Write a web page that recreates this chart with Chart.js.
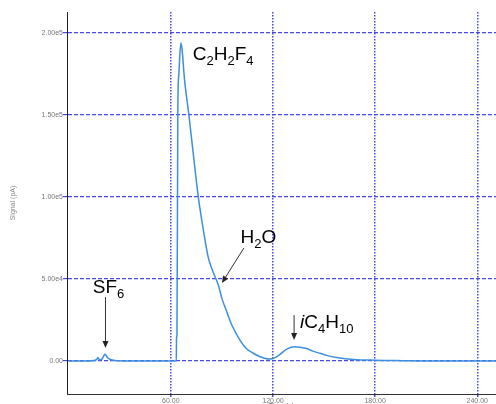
<!DOCTYPE html>
<html>
<head>
<meta charset="utf-8">
<script src="https://cdn.jsdelivr.net/npm/chart.js@4"></script>
<style>
  html, body { margin: 0; padding: 0; background: #fff; overflow: hidden; }
  #wrap { width: 496px; height: 410px; }
</style>
</head>
<body>
<div id="wrap"><canvas id="chart" width="496" height="410"></canvas></div>
<script>
// retention time (s) and detector signal
const times = [0, 10, 15, 16.5, 17.2, 18, 19.5, 20.5, 21.2, 22, 23, 24.5, 27, 35, 50,
  63.2, 63.35, 63.6, 64.1, 64.7, 65.9, 66.5, 68, 70.6, 73, 76.1, 79, 81.9, 84, 85.9,
  87.2, 88.8, 89.8, 92.7, 96, 100.6, 104, 108.2, 112.4, 115, 118.2, 121, 124.1, 128.1,
  132.9, 136, 139.8, 143, 147.6, 152, 157.5, 167.3, 180, 196.5, 210, 251];
const signal = [0, 0, 300, 1000, 2200, 800, 1200, 3000, 4100, 3300, 1800, 900, 300, 0, 0,
  0, 14600, 15500, 153000, 175000, 193900, 190900, 172000, 150000, 128000, 100200, 80500, 63500, 56500, 51500,
  48300, 43000, 38800, 30500, 21500, 12800, 8000, 4900, 2600, 1700, 1200, 1900, 4000, 7300,
  8700, 8400, 7600, 6200, 4700, 3300, 2200, 1000, 500, 200, 0, 0];

const xTicks = [60, 120, 180, 240];
const xTickLabels = ['60.00', '120.00', '180.00', '240.00'];
const yTicks = [0, 50000, 100000, 150000, 200000];
const yTickLabels = ['0.00', '5.00e4', '1.00e5', '1.50e5', '2.00e5'];

// peak names: _n = subscript, *x* = italic
const peakLabels = [
  { text: 'C_2H_2F_4', x: 72.9, y: 183500 },
  { text: 'SF_6', x: 14.1, y: 41500 },
  { text: 'H_2O', x: 100.9, y: 72000 },
  { text: '*i*C_4H_10', x: 135.9, y: 20100 },
];
const peakArrows = [
  { x1: 21.6, y1: 39000, x2: 21.6, y2: 7900 },
  { x1: 102.9, y1: 68900, x2: 90, y2: 47600 },
  { x1: 132.4, y1: 28000, x2: 132.4, y2: 12800 },
];

const FONT = '"Liberation Sans", Arial, sans-serif';
const GRID_BLUE = '#4848e8';

function drawFormula(ctx, text, px, py) {
  const parts = text.split(/(_\d+|\*[^*]+\*)/).filter(Boolean);
  let cx = px;
  ctx.fillStyle = '#000';
  ctx.textBaseline = 'alphabetic';
  ctx.textAlign = 'left';
  for (const p of parts) {
    let t = p, dy = 0;
    if (p.startsWith('_')) {
      t = p.slice(1);
      ctx.font = '13px ' + FONT;
      dy = 5;
    } else if (p.startsWith('*')) {
      t = p.slice(1, -1);
      ctx.font = 'italic 19px ' + FONT;
    } else {
      ctx.font = '19px ' + FONT;
    }
    ctx.fillText(t, cx, py + dy);
    cx += ctx.measureText(t).width;
  }
}

function drawArrow(ctx, x1, y1, x2, y2) {
  const ang = Math.atan2(y2 - y1, x2 - x1);
  const len = 7, half = 3;
  ctx.strokeStyle = '#333';
  ctx.fillStyle = '#222';
  ctx.lineWidth = 1;
  ctx.beginPath();
  ctx.moveTo(x1, y1);
  ctx.lineTo(x2 - Math.cos(ang) * len, y2 - Math.sin(ang) * len);
  ctx.stroke();
  ctx.beginPath();
  ctx.moveTo(x2, y2);
  ctx.lineTo(x2 - Math.cos(ang) * len - Math.sin(ang) * half, y2 - Math.sin(ang) * len + Math.cos(ang) * half);
  ctx.lineTo(x2 - Math.cos(ang) * len + Math.sin(ang) * half, y2 - Math.sin(ang) * len - Math.cos(ang) * half);
  ctx.closePath();
  ctx.fill();
}

const peakPlugin = {
  id: 'peakLabels',
  afterDatasetsDraw(chart) {
    const { ctx, scales: { x, y } } = chart;
    ctx.save();
    peakLabels.forEach(l => drawFormula(ctx, l.text, x.getPixelForValue(l.x), y.getPixelForValue(l.y)));
    peakArrows.forEach(a => drawArrow(ctx,
      x.getPixelForValue(a.x1), y.getPixelForValue(a.y1),
      x.getPixelForValue(a.x2), y.getPixelForValue(a.y2)));
    ctx.restore();
  }
};

const points = times.map((t, i) => ({ x: t, y: signal[i] }));

new Chart(document.getElementById('chart'), {
  type: 'line',
  data: {
    datasets: [{
      data: points,
      borderColor: '#3d8fe0',
      borderWidth: 1.5,
      pointRadius: 0,
      fill: false,
      cubicInterpolationMode: 'monotone',
    }]
  },
  options: {
    responsive: false,
    animation: false,
    layout: { padding: { top: 12, left: 0, right: 0, bottom: 0 } },
    plugins: { legend: { display: false }, tooltip: { enabled: false } },
    scales: {
      x: {
        type: 'linear',
        min: -1,
        max: 251,
        afterBuildTicks: s => { s.ticks = xTicks.map(v => ({ value: v })); },
        afterFit: s => { s.height = 16; },
        ticks: {
          font: { family: FONT, size: 7 },
          color: '#777',
          padding: 0,
          maxRotation: 0,
          callback: v => xTickLabels[xTicks.indexOf(v)],
        },
        grid: { color: GRID_BLUE, tickColor: GRID_BLUE, lineWidth: 1.5, tickLength: 3 },
        border: { display: true, color: '#333', width: 1, dash: [1.5, 1.5] },
        title: {
          display: true, text: 'Time (s)', color: '#555',
          font: { family: FONT, size: 7 }, padding: { top: 0, bottom: 0 }
        },
      },
      y: {
        min: -20100,
        max: 212800,
        afterBuildTicks: s => { s.ticks = yTicks.map(v => ({ value: v })); },
        afterFit: s => { s.width = 67; },
        ticks: {
          font: { family: FONT, size: 7 },
          color: '#777',
          padding: 0,
          callback: v => yTickLabels[yTicks.indexOf(v)],
        },
        grid: { color: GRID_BLUE, tickColor: GRID_BLUE, lineWidth: 1.2, tickLength: 4 },
        border: { display: true, color: '#222', width: 1, dash: [4, 2] },
        title: {
          display: true, text: 'Signal (pA)', color: '#888',
          font: { family: FONT, size: 7 }, padding: { top: 9, bottom: 0 }
        },
      }
    }
  },
  plugins: [peakPlugin]
});
</script>
</body>
</html>
